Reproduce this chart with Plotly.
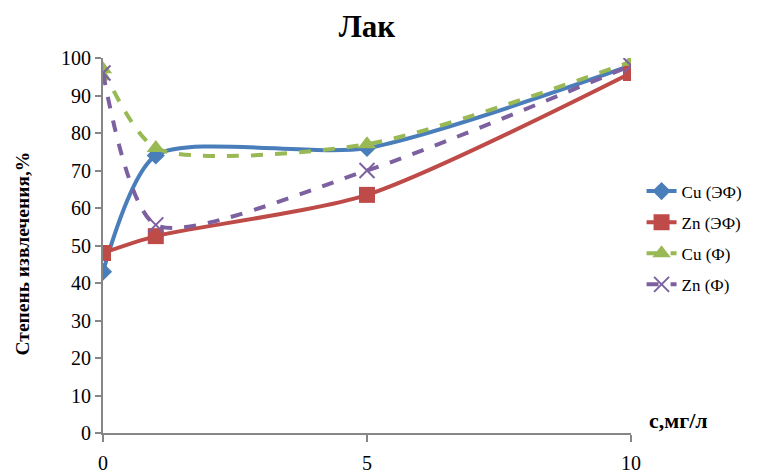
import plotly.graph_objects as go

x_vals = [0, 1, 5, 10]
cu_ef = [43, 74, 76, 98]
zn_ef = [48, 52.5, 63.5, 96]
cu_f = [97, 76, 77, 99]
zn_f = [96, 55.5, 70, 98]

names = ["Cu (ЭФ)", "Zn (ЭФ)", "Cu (Ф)", "Zn (Ф)"]
colors = ["#4A7EBB", "#BE4B48", "#98B954", "#7D60A0"]
FONT = "Liberation Serif"

fig = go.Figure()
series = [cu_ef, zn_ef, cu_f, zn_f]
dashes = ["solid", "solid", "dash", "dash"]
symbols = ["diamond", "square", "triangle-up", "x-thin-open"]
sizes = [14, 16, 16, 15]
for i, (name, ys, col, d, sym, sz) in enumerate(zip(names, series, colors, dashes, symbols, sizes)):
    marker = dict(symbol=sym, size=sz, color=col)
    if sym == "x-thin-open":
        marker["line"] = dict(color=col, width=2)
    fig.add_trace(go.Scatter(
        x=x_vals, y=ys, name=name, mode="lines+markers", legendgroup=f"g{i}",
        line=dict(color=col, width=4, dash=d, shape="spline", smoothing=0.7),
        marker=marker,
    ))

fig.update_layout(
    width=781, height=473,
    margin=dict(l=103, r=150, t=58, b=40, autoexpand=False),
    plot_bgcolor="white", paper_bgcolor="white",
    font=dict(family=FONT, color="black"),
    title=dict(text="<b>Лак</b>", x=0.5, xanchor="center", xref="paper",
               yref="container", y=1 - 26 / 473, yanchor="middle",
               font=dict(size=31, family=FONT)),
    showlegend=True,
    legend=dict(x=1.02, xanchor="left", y=0.52, yanchor="middle",
                font=dict(size=17, family=FONT), tracegroupgap=6,
                bgcolor="rgba(0,0,0,0)"),
)
fig.update_xaxes(
    range=[0, 10], tickvals=[0, 5, 10], showgrid=False, zeroline=False,
    showline=True, linecolor="#868686", linewidth=2, automargin=False,
    ticks="outside", ticklen=7, tickcolor="#868686", tickwidth=2,
    tickfont=dict(size=20, family=FONT), ticklabelstandoff=4,
)
fig.update_yaxes(
    range=[0, 100], dtick=10, showgrid=False, zeroline=False,
    showline=True, linecolor="#868686", linewidth=2, automargin=False,
    ticks="outside", ticklen=6, tickcolor="#868686", tickwidth=2,
    tickfont=dict(size=20, family=FONT),
)
fig.add_annotation(
    text="<b>Степень извлечения,%</b>", textangle=-90,
    xref="paper", x=0, xanchor="center", xshift=-81,
    yref="paper", y=0.5, yanchor="middle", yshift=-8, showarrow=False,
    font=dict(size=19.5, family=FONT, color="black"),
)
fig.add_annotation(
    text="<b>с,мг/л</b>", xref="paper", x=1.0, xanchor="left", xshift=16,
    yref="y", y=0, yanchor="bottom", yshift=-2, showarrow=False,
    font=dict(size=22, family=FONT, color="black"),
)
fig.write_html("out.html")
